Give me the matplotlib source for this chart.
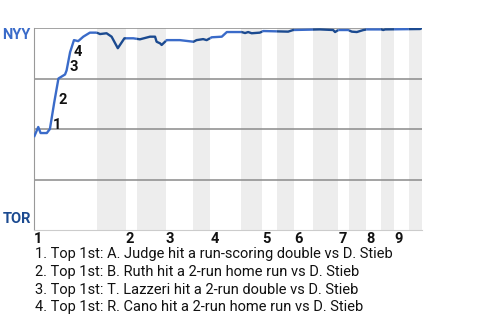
import matplotlib
matplotlib.use("Agg")
import matplotlib.pyplot as plt
import matplotlib.transforms as mtransforms
import numpy as np

plt.rcParams['font.family'] = ['Roboto', 'DejaVu Sans']

# half-inning boundaries (game progress units, 0..100), top/bottom alternating
half_bounds = [0, 16.2, 23.7, 26.5, 34.0, 41.0, 45.4, 53.4, 58.8, 62.6,
               67.0, 71.9, 78.4, 81.2, 85.6, 89.4, 92.8, 96.6, 100]
innings = ['1', '2', '3', '4', '5', '6', '7', '8', '9']

# NYY win probability through the game
wp_x = [0, 1.1, 1.7, 3.3, 4.1, 5.2, 6.3, 8.0, 8.4, 9.3, 10.3, 11.4, 12.7, 14.4,
        16.2, 17.0, 18.7, 20.0, 21.6, 23.3, 25.6, 27.3, 29.9, 31.2, 31.6, 32.5,
        32.9, 34.2, 37.6, 41.1, 41.9, 43.6, 44.5, 45.8, 48.4, 49.7, 53.5, 54.4,
        55.2, 56.1, 58.2, 59.1, 65.5, 66.8, 73.7, 77.1, 77.6, 78.4, 81.0, 81.9,
        83.2, 84.9, 85.8, 89.6, 90.0, 90.5, 99.5, 100]
wp_y = [0.46, 0.51, 0.48, 0.48, 0.50, 0.63, 0.75, 0.77, 0.79, 0.88, 0.94, 0.935,
        0.957, 0.977, 0.977, 0.97, 0.974, 0.957, 0.90, 0.949, 0.949, 0.944, 0.957,
        0.957, 0.932, 0.924, 0.916, 0.94, 0.94, 0.932, 0.94, 0.945, 0.94, 0.954,
        0.957, 0.98, 0.98, 0.975, 0.98, 0.974, 0.977, 0.985, 0.982, 0.99, 0.993,
        0.99, 0.98, 0.99, 0.99, 0.982, 0.98, 0.99, 0.993, 0.993, 0.99, 0.993,
        0.995, 1.0]

# key plays
play_x = [6.0, 7.3, 10.3, 11.3]
play_y = [0.52, 0.646, 0.808, 0.879]
play_text = [
    "1. Top 1st: A. Judge hit a run-scoring double vs D. Stieb",
    "2. Top 1st: B. Ruth hit a 2-run home run vs D. Stieb",
    "3. Top 1st: T. Lazzeri hit a 2-run double vs D. Stieb",
    "4. Top 1st: R. Cano hit a 2-run home run vs D. Stieb",
]

nyy_color = '#3a6bc9'
tor_color = '#1b4a90'

fig = plt.figure(figsize=(4.8, 3.2), dpi=100)
ax = fig.add_axes([34 / 480, 1 - 230 / 320, 388 / 480, 202 / 320])
ax.set_xlim(0, 100)
ax.set_ylim(0, 1)

# shaded bottom halves
for i in range(1, len(half_bounds) - 1, 2):
    ax.axvspan(half_bounds[i], half_bounds[i + 1], color='#ededed', lw=0, zorder=0)

for yv in [0.25, 0.5, 0.75, 1.0]:
    ax.axhline(yv, color='#8a8a8a', lw=1.1, zorder=1)

# line colored by batting team
xs = np.array(wp_x)
ys = np.array(wp_y)
for i in range(len(half_bounds) - 1):
    a, b = half_bounds[i], half_bounds[i + 1]
    inner = (xs > a) & (xs < b)
    sx = np.concatenate([[a], xs[inner], [b]])
    sy = np.interp(sx, xs, ys)
    ax.plot(sx, sy, color=nyy_color if i % 2 == 0 else tor_color, lw=1.7,
            solid_capstyle='butt', zorder=3)

for k in range(len(play_x)):
    ax.text(play_x[k], play_y[k], str(k + 1), fontsize=10.5, fontweight='bold',
            ha='center', va='center', color='#111111', zorder=4)

for s in ['top', 'right']:
    ax.spines[s].set_visible(False)
ax.spines['left'].set_color('#999999')
ax.spines['bottom'].set_color('#cccccc')
ax.set_xticks([])
ax.set_yticks([])

trans = mtransforms.blended_transform_factory(ax.transData, ax.transAxes)
for i, lab in enumerate(innings):
    ax.text(half_bounds[2 * i], -0.045, lab, transform=trans, fontsize=10.5,
            fontweight='bold', ha='left', va='center', color='#111111')

ax.text(-0.008, 0.965, 'NYY', transform=ax.transAxes, ha='right', va='center',
        fontsize=10.5, fontweight='bold', color=nyy_color)
ax.text(-0.008, 0.055, 'TOR', transform=ax.transAxes, ha='right', va='center',
        fontsize=10.5, fontweight='bold', color=tor_color)

for k, t in enumerate(play_text):
    fig.text(35 / 480, 1 - (254 + 17.8 * k) / 320, t, fontsize=10.5, ha='left',
             va='center', color='#111111')

fig.savefig('out.png', dpi=100)
